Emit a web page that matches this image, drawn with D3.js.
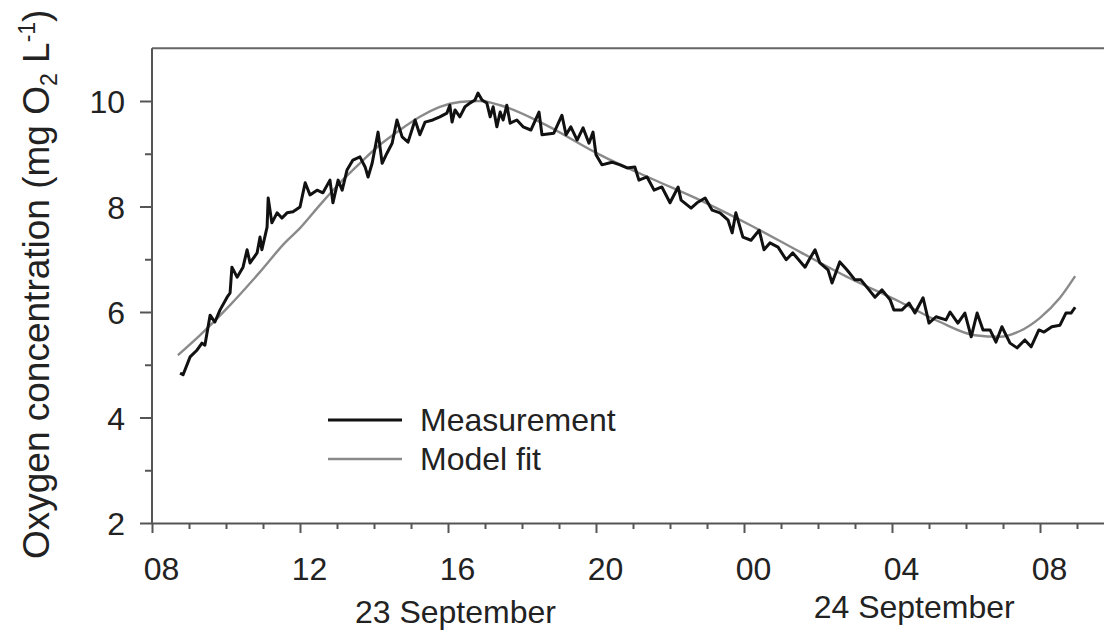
<!DOCTYPE html>
<html>
<head>
<meta charset="utf-8">
<script src="https://cdn.jsdelivr.net/npm/d3@7"></script>
<style>
  body { margin: 0; background: #fff; }
  svg text { font-family: "Liberation Sans", Arial, sans-serif; fill: #222; }
</style>
</head>
<body>
<div id="chart"></div>
<script>
// time is hours since 00:00 on 23 September (24 = midnight, 32 = 08:00 on the 24th)
const measHours = [8.76, 8.84, 9.03, 9.22, 9.35, 9.43, 9.57, 9.70, 9.84, 10.03, 10.11, 10.16, 10.30, 10.46, 10.57, 10.65, 10.84, 10.92, 10.97, 11.11, 11.14, 11.24, 11.38, 11.51, 11.65, 11.81, 12.00, 12.14, 12.27, 12.46, 12.62, 12.81, 12.89, 13.03, 13.14, 13.27, 13.43, 13.62, 13.76, 13.84, 13.95, 14.11, 14.22, 14.35, 14.49, 14.62, 14.76, 14.92, 15.11, 15.24, 15.38, 15.59, 15.78, 15.97, 16.05, 16.11, 16.19, 16.32, 16.46, 16.59, 16.73, 16.81, 16.92, 17.05, 17.14, 17.22, 17.32, 17.41, 17.49, 17.59, 17.68, 17.86, 18.03, 18.24, 18.46, 18.54, 18.86, 19.08, 19.19, 19.32, 19.49, 19.65, 19.81, 19.92, 20.00, 20.16, 20.43, 20.65, 20.84, 21.05, 21.16, 21.38, 21.57, 21.78, 22.00, 22.22, 22.30, 22.57, 22.73, 22.95, 23.14, 23.35, 23.57, 23.68, 23.78, 23.97, 24.19, 24.41, 24.54, 24.70, 24.92, 25.14, 25.32, 25.65, 25.76, 25.92, 26.05, 26.27, 26.38, 26.59, 26.78, 27.00, 27.16, 27.38, 27.54, 27.73, 27.95, 28.05, 28.27, 28.46, 28.62, 28.84, 29.00, 29.19, 29.46, 29.57, 29.78, 29.97, 30.14, 30.30, 30.46, 30.65, 30.81, 30.97, 31.19, 31.38, 31.59, 31.76, 31.97, 32.11, 32.32, 32.54, 32.70, 32.84, 32.95];
const measValues = [4.84, 4.81, 5.15, 5.28, 5.41, 5.37, 5.94, 5.81, 6.04, 6.28, 6.36, 6.85, 6.66, 6.85, 7.18, 6.93, 7.12, 7.42, 7.18, 7.61, 8.16, 7.69, 7.88, 7.78, 7.88, 7.90, 7.99, 8.45, 8.22, 8.31, 8.26, 8.50, 8.07, 8.50, 8.31, 8.69, 8.88, 8.94, 8.75, 8.56, 8.82, 9.41, 8.82, 9.01, 9.20, 9.64, 9.32, 9.22, 9.64, 9.36, 9.60, 9.64, 9.70, 9.77, 9.92, 9.60, 9.83, 9.70, 9.89, 9.96, 10.02, 10.15, 10.02, 9.96, 9.70, 9.89, 9.51, 9.79, 9.64, 9.92, 9.58, 9.64, 9.51, 9.45, 9.79, 9.36, 9.39, 9.73, 9.36, 9.51, 9.26, 9.49, 9.20, 9.41, 8.98, 8.79, 8.84, 8.79, 8.73, 8.75, 8.50, 8.56, 8.31, 8.37, 8.07, 8.37, 8.12, 7.97, 8.07, 8.16, 7.93, 7.88, 7.74, 7.50, 7.88, 7.42, 7.36, 7.55, 7.18, 7.31, 7.23, 6.99, 7.12, 6.85, 6.99, 7.18, 6.93, 6.80, 6.55, 6.95, 6.80, 6.61, 6.61, 6.42, 6.28, 6.42, 6.23, 6.04, 6.04, 6.17, 5.98, 6.27, 5.79, 5.91, 5.85, 6.00, 5.79, 5.98, 5.53, 5.98, 5.66, 5.66, 5.43, 5.72, 5.41, 5.32, 5.47, 5.34, 5.66, 5.62, 5.72, 5.75, 5.98, 5.98, 6.09];

const fitHours = [8.70, 9.30, 10.11, 10.92, 11.59, 12.00, 12.54, 13.08, 13.62, 14.16, 14.70, 15.24, 15.78, 16.32, 16.86, 17.41, 18.49, 20.11, 21.46, 22.81, 24.16, 25.51, 26.86, 28.22, 29.30, 30.24, 30.92, 31.46, 32.00, 32.54, 32.95];
const fitValues = [5.18, 5.56, 6.13, 6.76, 7.31, 7.59, 8.03, 8.45, 8.82, 9.17, 9.45, 9.70, 9.89, 9.98, 10.00, 9.92, 9.60, 8.98, 8.54, 8.12, 7.65, 7.14, 6.64, 6.19, 5.81, 5.56, 5.53, 5.64, 5.89, 6.27, 6.68];

const seriesNames = ['Measurement', 'Model fit'];
const seriesColors = ['#111', '#8a8a8a'];

const yLabelTicks = [2, 4, 6, 8, 10];
const yMinorTicks = [3, 5, 7, 9];
const xHourTicks = d3.range(8, 34);
const dayLabels = ['23 September', '24 September'];
const dayLabelHours = [16.2, 28.6];

const W = 1104, H = 633;
const left = 152, bottom = 523;

const svg = d3.select('#chart').append('svg')
  .attr('width', W).attr('height', H);

const x = d3.scaleLinear().domain([8, 34]).range([left, left + 26 * 37]);
const y = d3.scaleLinear().domain([2, 11]).range([bottom, bottom - 9 * 52.75]);

// top frame line
svg.append('line')
  .attr('x1', left).attr('x2', W)
  .attr('y1', y(11)).attr('y2', y(11))
  .attr('stroke', '#666').attr('stroke-width', 2);

// x axis, labels every 4 h
const xAxis = svg.append('g')
  .attr('transform', `translate(0,${bottom})`)
  .call(d3.axisBottom(x)
    .tickValues(xHourTicks)
    .tickSizeOuter(0)
    .tickFormat(d => d % 4 === 0 ? d3.format('02')(d % 24) : ''));
xAxis.selectAll('.tick line')
  .attr('y2', d => d % 4 === 0 ? 10 : 6);
xAxis.selectAll('.tick text')
  .attr('dy', 0).attr('y', 57).attr('x', 9)
  .style('font-size', '32px');

// y axis
const yAxis = svg.append('g')
  .attr('transform', `translate(${left},0)`)
  .call(d3.axisLeft(y)
    .tickValues(yLabelTicks.concat(yMinorTicks))
    .tickSizeOuter(0)
    .tickSize(12)
    .tickPadding(15)
    .tickFormat(d => yLabelTicks.includes(d) ? d : ''));
yAxis.selectAll('.tick line')
  .attr('x2', d => yLabelTicks.includes(d) ? -12 : -7);
yAxis.selectAll('.tick text')
  .attr('dy', '0.36em')
  .style('font-size', '32px');
yAxis.select('.domain').attr('d', `M0,${y(11)}V${y(2)}`);

svg.selectAll('.domain, .tick line')
  .attr('stroke', '#555').attr('stroke-width', 2);

// day labels
svg.selectAll('.day')
  .data(dayLabels)
  .join('text')
  .attr('class', 'day')
  .attr('x', (d, i) => x(dayLabelHours[i]))
  .attr('y', (d, i) => i === 0 ? 623 : 618)
  .attr('text-anchor', 'middle')
  .style('font-size', '32px')
  .text(d => d);

// y axis title
const yt = svg.append('text')
  .attr('transform', 'translate(49,559) rotate(-90)')
  .style('font-size', '37px');
yt.append('tspan').text('Oxygen concentration (mg O');
yt.append('tspan').attr('dy', 8).style('font-size', '23px').text('2');
yt.append('tspan').attr('dy', -8).text(' L');
yt.append('tspan').attr('dy', -14).style('font-size', '23px').text('-1');
yt.append('tspan').attr('dy', 14).text(')');

// lines
const fitLine = d3.line()
  .x((d, i) => x(fitHours[i]))
  .y(d => y(d))
  .curve(d3.curveMonotoneX);
const measLine = d3.line()
  .x((d, i) => x(measHours[i]))
  .y(d => y(d));

svg.append('path')
  .datum(fitValues)
  .attr('d', fitLine)
  .attr('fill', 'none')
  .attr('stroke', seriesColors[1])
  .attr('stroke-width', 2.4);

svg.append('path')
  .datum(measValues)
  .attr('d', measLine)
  .attr('fill', 'none')
  .attr('stroke', seriesColors[0])
  .attr('stroke-width', 3)
  .attr('stroke-linejoin', 'round');

// legend
const legend = svg.append('g').attr('transform', 'translate(328,420)');
const item = legend.selectAll('g')
  .data(seriesNames)
  .join('g')
  .attr('transform', (d, i) => `translate(0,${i * 39})`);
item.append('line')
  .attr('x1', 0).attr('x2', 74)
  .attr('stroke', (d, i) => seriesColors[i])
  .attr('stroke-width', (d, i) => i === 0 ? 3 : 2.4);
item.append('text')
  .attr('x', 92).attr('y', 11)
  .style('font-size', '32px')
  .text(d => d);
</script>
</body>
</html>
